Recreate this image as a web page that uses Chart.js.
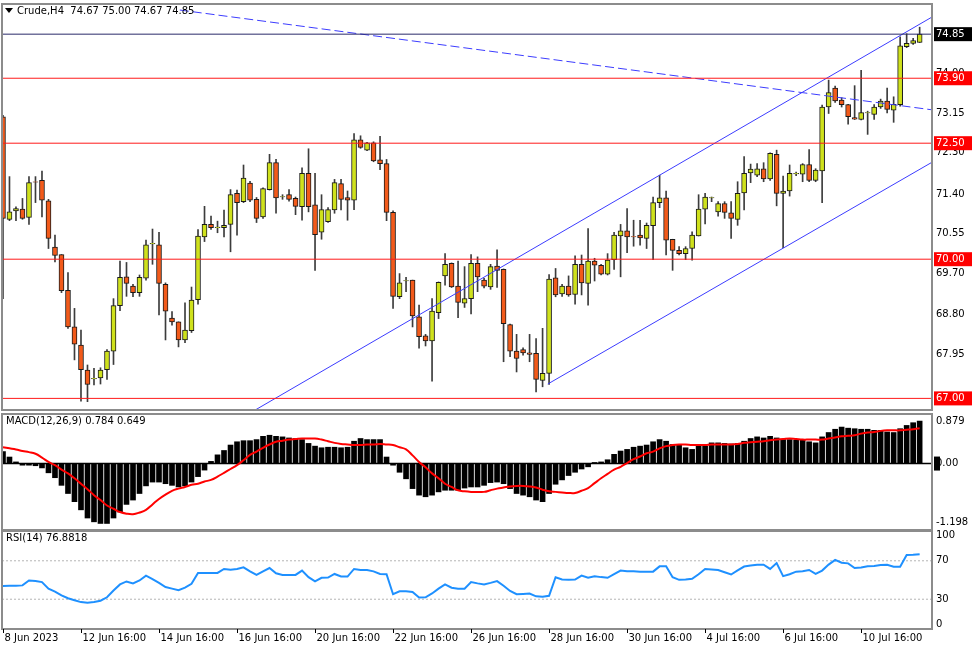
<!DOCTYPE html>
<html>
<head>
<meta charset="utf-8">
<script src="https://cdn.jsdelivr.net/npm/chart.js@4.4.0/dist/chart.umd.min.js"></script>
<style>
  body{margin:0;background:#fff;width:975px;height:650px;overflow:hidden;position:relative}
  canvas{position:absolute;left:0}
</style>
</head>
<body>
<canvas id="precio" width="975" height="412" style="top:0"></canvas>
<canvas id="macd" width="975" height="120" style="top:412px"></canvas>
<canvas id="rsi" width="975" height="120" style="top:530px"></canvas>
<script>
// velas H4 de Crude
const aperturas = [73.07,70.86,71.04,71.08,70.90,71.67,71.70,71.26,70.26,70.10,
  69.33,68.54,68.15,67.61,67.42,67.44,67.62,68.02,69.00,69.62,
  69.42,69.28,69.59,70.33,70.31,69.46,68.73,68.65,68.26,68.46,
  69.13,70.48,70.75,70.68,70.68,70.75,71.42,71.24,71.64,71.29,
  70.91,71.50,72.08,71.34,71.39,71.31,71.13,71.85,71.17,70.58,
  70.81,71.06,71.63,71.33,71.27,72.57,72.35,72.51,72.14,72.06,
  71.01,69.19,69.53,69.55,68.76,68.35,68.24,68.85,69.64,69.91,
  69.42,69.05,69.15,69.91,69.55,69.40,69.85,69.78,68.59,68.02,
  68.05,67.98,67.97,67.39,67.54,69.60,69.25,69.42,69.24,69.89,
  69.48,69.96,69.87,69.68,69.99,70.50,70.61,70.49,70.52,70.45,
  70.72,71.22,71.32,70.43,70.19,70.12,70.23,70.50,71.08,71.32,
  71.02,71.20,71.00,70.86,71.43,71.86,71.81,71.95,71.73,72.26,
  71.42,71.47,71.84,71.83,72.04,71.70,71.90,73.28,73.69,73.43,
  73.33,73.05,73.01,73.15,73.12,73.28,73.41,73.21,73.33,74.58,
  74.65,74.67];
const maximos = [73.10,71.78,71.13,71.31,71.78,71.78,71.90,71.29,70.52,70.10,
  69.71,68.94,68.47,67.72,67.65,67.66,68.05,69.15,69.96,69.93,
  69.46,69.66,70.41,70.65,70.58,69.49,68.87,68.65,69.06,69.40,
  70.64,71.14,70.93,70.82,71.06,71.50,71.49,72.03,71.68,71.33,
  71.54,72.26,72.15,71.39,71.50,71.34,71.97,72.38,71.85,71.39,
  71.11,71.72,71.72,71.47,72.71,72.66,72.52,72.53,72.65,72.15,
  71.04,69.69,69.61,69.55,69.01,68.38,69.15,69.51,70.12,69.92,
  69.96,69.84,70.10,70.05,69.59,69.89,70.20,69.79,68.60,68.38,
  68.09,68.38,68.29,68.51,69.67,69.80,69.46,69.64,70.07,70.09,
  70.66,70.02,69.89,70.12,70.58,70.75,71.09,70.84,70.84,70.78,
  71.34,71.81,71.47,70.43,70.27,70.27,70.59,71.39,71.42,71.34,
  71.24,71.24,71.24,71.67,72.21,72.05,72.06,72.08,72.29,72.35,
  71.79,72.03,71.88,72.06,72.36,71.95,73.32,73.86,73.73,73.48,
  73.34,73.74,74.07,73.19,73.33,73.45,73.69,73.50,74.79,74.86,
  74.76,75.00];
const minimos = [69.15,70.83,70.83,70.86,70.75,71.22,70.91,70.23,69.94,69.28,
  68.51,67.83,66.94,66.93,67.29,67.31,67.41,67.73,68.89,69.20,
  69.19,69.20,69.55,69.89,68.80,68.26,68.58,68.11,68.20,68.42,
  69.03,70.38,70.64,70.57,70.48,70.16,70.52,71.22,71.24,70.79,
  70.88,71.49,70.99,71.29,71.25,70.96,70.84,71.02,69.76,70.43,
  70.79,70.99,71.06,70.84,71.07,72.39,72.34,72.10,71.93,70.83,
  68.94,69.15,69.30,68.54,68.08,68.13,67.37,68.72,69.44,69.39,
  68.74,68.96,68.82,69.30,69.38,69.35,69.39,67.79,67.90,67.57,
  67.93,67.79,67.14,67.25,67.30,69.19,69.20,69.20,69.03,69.23,
  69.01,69.53,69.66,69.66,69.78,69.62,70.14,70.28,70.30,70.23,
  69.99,71.11,70.09,69.76,70.09,69.99,69.98,70.50,70.76,71.24,
  70.93,70.88,70.45,70.73,71.06,71.65,71.78,71.67,71.70,71.15,
  70.25,71.36,71.80,71.67,71.67,71.67,71.22,73.14,73.38,73.28,
  72.91,73.01,73.00,72.69,73.01,73.25,73.15,72.95,73.30,74.56,
  74.63,74.67];
const cierres = [70.88,71.02,71.09,70.88,71.65,71.66,71.27,70.45,70.08,69.32,
  68.54,68.17,67.62,67.30,67.43,67.61,68.02,69.00,69.61,69.48,
  69.28,69.61,70.31,70.34,69.48,68.88,68.65,68.26,68.47,69.12,
  70.50,70.75,70.68,70.69,70.73,71.39,71.22,71.75,71.27,70.88,
  71.52,72.08,71.32,71.35,71.29,71.14,71.85,71.13,70.53,71.07,
  71.07,71.65,71.29,71.27,72.57,72.41,72.51,72.12,72.06,71.01,
  69.20,69.49,69.54,68.78,68.33,68.24,68.88,69.50,69.89,69.40,
  69.07,69.15,69.91,69.62,69.42,69.84,69.76,68.61,68.02,67.86,
  67.98,67.95,67.41,67.54,69.57,69.23,69.42,69.23,69.89,69.49,
  69.96,69.87,69.68,69.98,70.52,70.61,70.48,70.48,70.46,70.73,
  71.22,71.32,70.41,70.19,70.12,70.23,70.52,71.08,71.34,71.33,
  71.20,71.01,70.88,71.42,71.85,71.94,71.95,71.73,72.28,71.42,
  71.47,71.85,71.85,72.04,71.70,71.92,73.28,73.59,73.41,73.33,
  73.07,73.02,73.16,73.16,73.28,73.41,73.23,73.34,74.60,74.65,
  74.71,74.85];

const macdHist = [0.22,0.12,0.03,-0.03,-0.03,-0.04,-0.08,-0.17,-0.26,-0.40,
  -0.55,-0.70,-0.85,-1.00,-1.07,-1.10,-1.10,-1.00,-0.89,-0.75,
  -0.67,-0.55,-0.41,-0.34,-0.34,-0.37,-0.40,-0.43,-0.41,-0.34,
  -0.24,-0.12,0.04,0.16,0.24,0.34,0.40,0.42,0.42,0.44,
  0.50,0.52,0.50,0.49,0.47,0.46,0.44,0.37,0.32,0.29,
  0.30,0.30,0.29,0.30,0.41,0.46,0.44,0.44,0.44,0.12,
  -0.03,-0.16,-0.28,-0.46,-0.58,-0.61,-0.58,-0.52,-0.49,-0.49,
  -0.49,-0.45,-0.43,-0.43,-0.40,-0.35,-0.34,-0.37,-0.46,-0.55,
  -0.58,-0.61,-0.67,-0.70,-0.55,-0.38,-0.30,-0.22,-0.16,-0.10,
  -0.06,0.02,0.03,0.07,0.17,0.23,0.26,0.30,0.32,0.34,
  0.40,0.44,0.41,0.35,0.35,0.29,0.26,0.32,0.32,0.38,
  0.38,0.37,0.36,0.37,0.41,0.46,0.49,0.47,0.50,0.47,
  0.44,0.44,0.43,0.43,0.40,0.38,0.49,0.57,0.63,0.67,
  0.65,0.64,0.63,0.63,0.61,0.61,0.58,0.57,0.64,0.70,
  0.75,0.78];
const macdSenal = [0.30,0.28,0.26,0.23,0.21,0.18,0.11,0.03,-0.03,-0.11,
  -0.18,-0.27,-0.37,-0.47,-0.58,-0.67,-0.77,-0.83,-0.89,-0.92,
  -0.93,-0.90,-0.85,-0.75,-0.65,-0.57,-0.50,-0.46,-0.43,-0.39,
  -0.37,-0.33,-0.30,-0.24,-0.17,-0.10,-0.03,0.06,0.16,0.22,
  0.29,0.35,0.40,0.42,0.44,0.45,0.46,0.46,0.46,0.44,
  0.41,0.38,0.36,0.35,0.34,0.34,0.35,0.35,0.36,0.35,
  0.34,0.30,0.26,0.15,0.03,-0.07,-0.18,-0.27,-0.37,-0.43,
  -0.49,-0.51,-0.52,-0.52,-0.52,-0.49,-0.46,-0.44,-0.42,-0.41,
  -0.41,-0.42,-0.44,-0.48,-0.51,-0.52,-0.53,-0.54,-0.54,-0.50,
  -0.45,-0.36,-0.27,-0.19,-0.11,-0.06,0.01,0.08,0.13,0.19,
  0.22,0.28,0.32,0.34,0.35,0.35,0.34,0.34,0.34,0.35,
  0.35,0.35,0.35,0.36,0.38,0.39,0.40,0.41,0.43,0.44,
  0.45,0.46,0.45,0.44,0.44,0.44,0.44,0.46,0.48,0.50,
  0.51,0.52,0.55,0.57,0.58,0.60,0.61,0.61,0.61,0.62,
  0.63,0.65];
const rsi = [43.7,44,44,44.4,49.5,49,47.8,41,38,34,
  31,29,27,26.3,27,28.4,32,39,45.4,48.5,
  46.5,49.5,54.6,51,47,42.7,41,39.3,42,46,
  57.4,57.4,57.4,57.4,61.5,60.8,61.5,63.2,59,55.3,
  59,62.5,57,55.3,55.3,55.3,59.8,53,48.5,52.3,
  52.5,56.3,53.6,53.6,61.5,60.5,60.4,59,56.3,56,
  35.2,38.3,38.3,37.6,31.8,32,36,41,45.4,42,
  41,41,47.8,46.5,45.4,47,48.8,44,38.6,35.2,
  35.5,35.9,33,32.5,33.5,52.9,50.5,50.2,50.5,54.6,
  52.3,54,53,52.3,56,59.8,59,59,58.7,58.7,
  58.7,64.2,64.2,52.9,50.2,50.5,51.2,56,61.5,61,
  60.4,58,55.7,60,64,65,65.9,65.9,61.5,67.6,
  54,56,58.7,59,60.4,56.3,59.8,66,71,68,
  67.3,62.5,63,64.2,64.5,65.5,65.9,63.9,63.9,76,
  76.2,76.88];

const niveles = [73.90, 72.50, 70.00, 67.00];
const precioActual = 74.85;
const ticksPrecio = [74.00, 73.15, 72.30, 71.40, 70.55, 69.70, 68.80, 67.95];
const etiquetasFecha = ['8 Jun 2023','12 Jun 16:00','14 Jun 16:00','16 Jun 16:00','20 Jun 16:00','22 Jun 16:00',
  '26 Jun 16:00','28 Jun 16:00','30 Jun 16:00','4 Jul 16:00','6 Jul 16:00','10 Jul 16:00'];
const barrasFecha = [0,12,24,36,48,60,72,84,96,108,120,132];

// lineas de tendencia: [barra, precio] en sus extremos
const canalSuperior = [[38.8, 66.75], [143.4, 75.26]];
const canalInferior = [[83.8, 67.31], [143.4, 72.13]];
const lineaBajista = [[27.2, 75.37], [143.4, 73.21]];

const idx = cierres.map((_, i) => i);
const X_MIN = -0.15, X_MAX = 142.9;
const FUENTE = '10px "DejaVu Sans"';

const marco = {
  id: 'marco',
  afterDraw(chart, args, o) {
    const {ctx, chartArea: a} = chart;
    const y = chart.scales.y;
    ctx.save();
    ctx.strokeStyle = '#8c8c8c';
    ctx.lineWidth = 2;
    ctx.strokeRect(a.left, a.top, a.right - a.left, a.bottom - a.top);
    ctx.font = FUENTE;
    ctx.textBaseline = 'middle';
    (o.etiquetas || []).forEach(e => {
      const py = y.getPixelForValue(e.v) + (e.dy || 0);
      if (e.fondo) { ctx.fillStyle = e.fondo; ctx.fillRect(a.right + 2, py - 7, e.ancho || 38, 14); }
      ctx.fillStyle = e.color || '#000';
      ctx.fillText(e.texto, a.right + 4, py);
    });
    if (o.titulo) {
      ctx.textBaseline = 'top';
      ctx.fillStyle = '#000';
      let x0 = a.left + 4;
      if (o.triangulo) {
        ctx.beginPath(); ctx.moveTo(a.left + 3, a.top + 4); ctx.lineTo(a.left + 11, a.top + 4); ctx.lineTo(a.left + 7, a.top + 9); ctx.fill();
        x0 = a.left + 15;
      }
      ctx.fillText(o.titulo, x0, a.top + 2);
    }
    if (o.fechas) {
      const x = chart.scales.x;
      ctx.textBaseline = 'top';
      ctx.strokeStyle = '#000'; ctx.lineWidth = 1;
      barrasFecha.forEach((b, k) => {
        const px = Math.round(x.getPixelForValue(b)) + 0.5;
        ctx.beginPath(); ctx.moveTo(px, a.bottom); ctx.lineTo(px, a.bottom + 4); ctx.stroke();
        ctx.fillText(etiquetasFecha[k], px + 1, a.bottom + 4);
      });
    }
    ctx.restore();
  }
};

function ejes(min, max, padding) {
  return {
    x: {type: 'linear', min: X_MIN, max: X_MAX, display: false, offset: false},
    y: {position: 'right', min: min, max: max, grid: {display: false}, border: {display: false},
        ticks: {display: false}, afterFit: s => { s.width = 43; }}
  };
}
function linea(puntos, color, extra) {
  return Object.assign({type: 'line', data: puntos.map(p => ({x: p[0], y: p[1]})), borderColor: color,
    borderWidth: 1, pointRadius: 0, fill: false, order: 0}, extra || {});
}
const base = {responsive: false, animation: false, events: []};

// panel de precios
const etiquetasPrecio = ticksPrecio.map(v => ({v: v, texto: v.toFixed(2)}))
  .concat(niveles.map(v => ({v: v, texto: v.toFixed(2), fondo: '#ff0000', color: '#fff'})))
  .concat([{v: precioActual, texto: precioActual.toFixed(2), fondo: '#000', color: '#fff'}]);

new Chart(document.getElementById('precio'), {
  type: 'bar',
  data: {
    datasets: [
      {data: idx.map(i => ({x: i, y: [minimos[i], maximos[i]]})), backgroundColor: '#3c3c3c',
       barThickness: 1, grouped: false, order: 3},
      {data: idx.map(i => ({x: i, y: [aperturas[i], cierres[i]]})),
       backgroundColor: idx.map(i => cierres[i] >= aperturas[i] ? '#cfe11c' : '#f25a1a'),
       borderColor: '#1a1a1a', borderWidth: 1, borderSkipped: false, barThickness: 5, grouped: false, order: 2},
      ...niveles.map(v => linea([[X_MIN, v], [X_MAX, v]], '#ff1a1a')),
      linea([[X_MIN, precioActual], [X_MAX, precioActual]], '#2a2a6a'),
      linea(canalSuperior, '#3c3cff'),
      linea(canalInferior, '#3c3cff'),
      linea(lineaBajista, '#3c3cff', {borderDash: [9, 4]})
    ]
  },
  options: Object.assign({}, base, {
    layout: {padding: {left: 2, top: 4, bottom: 2, right: 0}},
    scales: ejes(66.75, 75.50),
    plugins: {legend: {display: false}, tooltip: {enabled: false},
      marco: {etiquetas: etiquetasPrecio, titulo: 'Crude,H4  74.67 75.00 74.67 74.85', triangulo: true}}
  }),
  plugins: [marco]
});

// MACD
new Chart(document.getElementById('macd'), {
  type: 'bar',
  data: {
    datasets: [
      {data: idx.map(i => ({x: i, y: macdHist[i]})), backgroundColor: '#000', barThickness: 5, grouped: false, order: 2},
      linea(idx.map(i => [i, macdSenal[i]]), '#ff0000', {borderWidth: 2, tension: 0.4}),
      linea([[X_MIN, 0], [X_MAX, 0]], '#000', {borderWidth: 1.5, order: 3})
    ]
  },
  options: Object.assign({}, base, {
    layout: {padding: {left: 2, top: 2, bottom: 2, right: 0}},
    scales: ejes(-1.22, 0.91),
    plugins: {legend: {display: false}, tooltip: {enabled: false},
      marco: {titulo: 'MACD(12,26,9) 0.784 0.649', etiquetas: [
        {v: 0.879, texto: '0.879', dy: 6},
        {v: 0, texto: '0.00', fondo: '#000', ancho: 6},
        {v: -1.198, texto: '-1.198', dy: -6}]}}
  }),
  plugins: [marco]
});

// RSI
new Chart(document.getElementById('rsi'), {
  type: 'line',
  data: {
    datasets: [
      linea([[X_MIN, 70], [X_MAX, 70]], '#b4b4b4', {borderDash: [2, 2], order: 2}),
      linea([[X_MIN, 30], [X_MAX, 30]], '#b4b4b4', {borderDash: [2, 2], order: 2}),
      linea(idx.map(i => [i, rsi[i]]), '#1e90ff', {borderWidth: 2})
    ]
  },
  options: Object.assign({}, base, {
    layout: {padding: {left: 2, top: 1, bottom: 21, right: 0}},
    scales: ejes(-1, 101),
    plugins: {legend: {display: false}, tooltip: {enabled: false},
      marco: {titulo: 'RSI(14) 76.8818', fechas: true, etiquetas: [
        {v: 100, texto: '100', dy: 3}, {v: 70, texto: '70'}, {v: 30, texto: '30'}, {v: 0, texto: '0', dy: -4}]}}
  }),
  plugins: [marco]
});
</script>
</body>
</html>
